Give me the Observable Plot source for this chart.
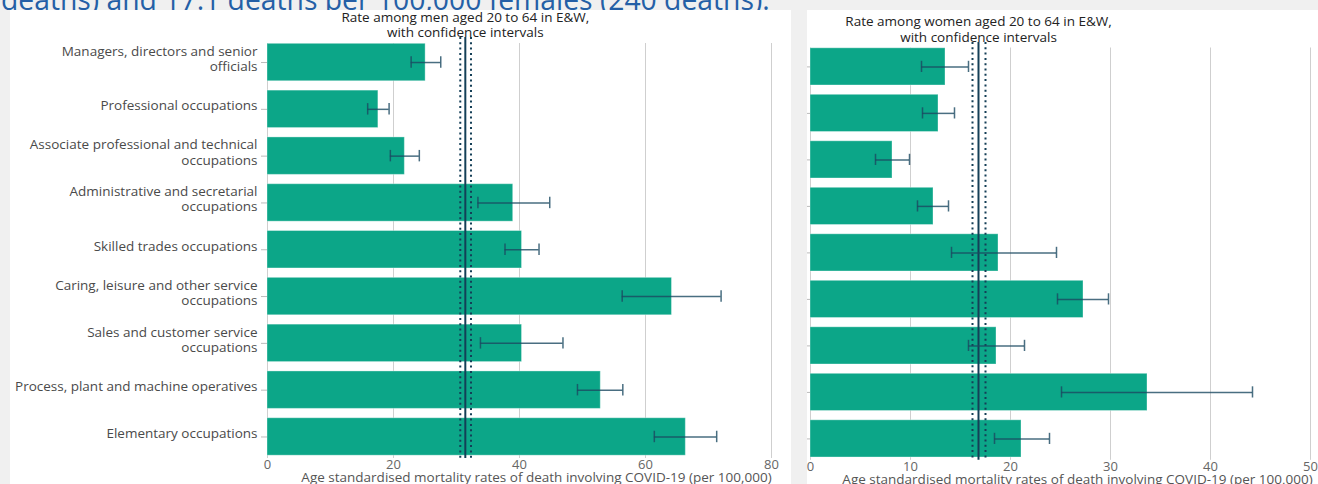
<!DOCTYPE html>
<html><head><meta charset="utf-8">
<script src="https://cdn.jsdelivr.net/npm/d3@7"></script>
<script src="https://cdn.jsdelivr.net/npm/@observablehq/plot@0.6"></script>
<style>
html,body{margin:0;padding:0;background:#f0f0f0;width:1318px;height:484px;overflow:hidden;font-family:"Open Sans",sans-serif}
body{position:relative}
#leadbox{position:absolute;left:0;top:0;width:800px;height:10.5px;overflow:hidden}
#lead{position:absolute;left:1px;top:-15.5px;font-size:28.3px;line-height:28px;color:#245fa6;white-space:nowrap}
.panel{position:absolute;background:#fff}
#p1{left:10px;top:10px;width:781px;height:474px}
#p2{left:807px;top:10px;width:511px;height:474px}
#men,#women{position:absolute;top:10px}
#men{left:10px}
#women{left:800px}
</style></head><body>
<div id="leadbox"><div id="lead">deaths) and 17.1 deaths per 100,000 females (240 deaths).</div></div>
<div class="panel" id="p1"></div>
<div class="panel" id="p2"></div>
<div id="men"></div>
<div id="women"></div>
<script>
const categories = [
  "Managers, directors and senior officials",
  "Professional occupations",
  "Associate professional and technical occupations",
  "Administrative and secretarial occupations",
  "Skilled trades occupations",
  "Caring, leisure and other service occupations",
  "Sales and customer service occupations",
  "Process, plant and machine operatives",
  "Elementary occupations"
];
const tickLabels = [
  "Managers, directors and senior\nofficials",
  "Professional occupations",
  "Associate professional and technical\noccupations",
  "Administrative and secretarial\noccupations",
  "Skilled trades occupations",
  "Caring, leisure and other service\noccupations",
  "Sales and customer service\noccupations",
  "Process, plant and machine operatives",
  "Elementary occupations"
];
const menRate  = [25.1, 17.6, 21.8, 39.0, 40.4, 64.2, 40.4, 52.9, 66.4];
const menLower = [22.8, 15.9, 19.5, 33.4, 37.7, 56.3, 33.8, 49.2, 61.4];
const menUpper = [27.5, 19.3, 24.1, 44.8, 43.1, 72.0, 46.9, 56.4, 71.3];
const womenRate  = [13.5, 12.8, 8.2, 12.3, 18.8, 27.3, 18.6, 33.7, 21.1];
const womenLower = [11.1, 11.2, 6.5, 10.7, 14.1, 24.7, 15.8, 25.1, 18.4];
const womenUpper = [15.8, 14.4, 9.9, 13.8, 24.6, 29.8, 21.4, 44.2, 23.9];
// overall rate: [lower CI, rate, upper CI]
const menOverall = [30.6, 31.4, 32.3];
const womenOverall = [16.2, 16.8, 17.5];
const menTicks = [0, 20, 40, 60, 80];
const womenTicks = [0, 10, 20, 30, 40, 50];
const menTitle = "Rate among men aged 20 to 64 in E&W,\nwith confidence intervals";
const womenTitle = "Rate among women aged 20 to 64 in E&W,\nwith confidence intervals";
const xLabel = "Age standardised mortality rates of death involving COVID-19 (per 100,000)";

function chart({rate, lower, upper, overall, ticks, title, width, marginLeft, marginRight, marginTop, marginBottom, showLabels, ruleInset}) {
  const rows = categories.map((c, i) => ({cat: c, rate: rate[i], lo: lower[i], hi: upper[i]}));
  const labelOf = new Map(categories.map((c, i) => [c, tickLabels[i]]));
  const ci = {stroke: "#1b4a62", strokeOpacity: 0.8, strokeWidth: 1.5};
  return Plot.plot({
    width, height: 474, marginLeft, marginRight, marginTop, marginBottom,
    style: {fontFamily: '"Open Sans", sans-serif', fontSize: "13.5px", background: "transparent", overflow: "visible"},
    x: {domain: [ticks[0], ticks[ticks.length - 1]], label: null},
    y: {domain: categories, paddingInner: 0.2, paddingOuter: 0.06, round: false, label: null},
    marks: [
      Plot.gridX({ticks, stroke: "#cfcfcf", strokeOpacity: 1, insetTop: 2.5}),
      Plot.barX(rows, {x: "rate", y: "cat", fill: "#0ca688", stroke: "#fff", strokeOpacity: 0.35}),
      Plot.ruleX([overall[0], overall[2]], {x: d => d, stroke: "#143f57", strokeWidth: 2, strokeDasharray: "2,3.3", insetTop: ruleInset}),
      Plot.ruleX([overall[1]], {x: d => d, stroke: "#143f57", strokeWidth: 2, insetTop: ruleInset}),
      Plot.ruleY(rows, {y: "cat", x1: "lo", x2: "hi", ...ci}),
      Plot.tickX(rows, {x: "lo", y: "cat", insetTop: 13, insetBottom: 13, ...ci}),
      Plot.tickX(rows, {x: "hi", y: "cat", insetTop: 13, insetBottom: 13, ...ci}),
      Plot.axisX({ticks, tickSize: 0, tickPadding: 1, fill: "#666", fontSize: 13, label: null}),
      Plot.axisY({tickSize: showLabels ? 6 : 3, tickFormat: () => "", stroke: "#bbb", label: null}),
      showLabels ? Plot.axisY({tickSize: 0, tickPadding: 10, dy: -4, fill: "#4a4a4a", lineHeight: 1.12, tickFormat: d => labelOf.get(d), label: null}) : null,
      Plot.text([title], {x: overall[1], frameAnchor: "top", lineAnchor: "bottom", dy: -4, lineHeight: 1.12, fill: "#222"}),
      Plot.text([xLabel], {frameAnchor: "bottom", lineAnchor: "middle", dy: 19, dx: 17, fill: "#555"})
    ]
  });
}

document.getElementById("men").append(chart({
  rate: menRate, lower: menLower, upper: menUpper, overall: menOverall, ticks: menTicks, title: menTitle,
  width: 781, marginLeft: 257, marginRight: 20, marginTop: 30.5, marginBottom: 26, showLabels: true, ruleInset: -3.5
}));
document.getElementById("women").append(chart({
  rate: womenRate, lower: womenLower, upper: womenUpper, overall: womenOverall, ticks: womenTicks, title: womenTitle,
  width: 518, marginLeft: 10, marginRight: 8, marginTop: 35, marginBottom: 24.2, showLabels: false, ruleInset: -3
}));
</script>
</body></html>
